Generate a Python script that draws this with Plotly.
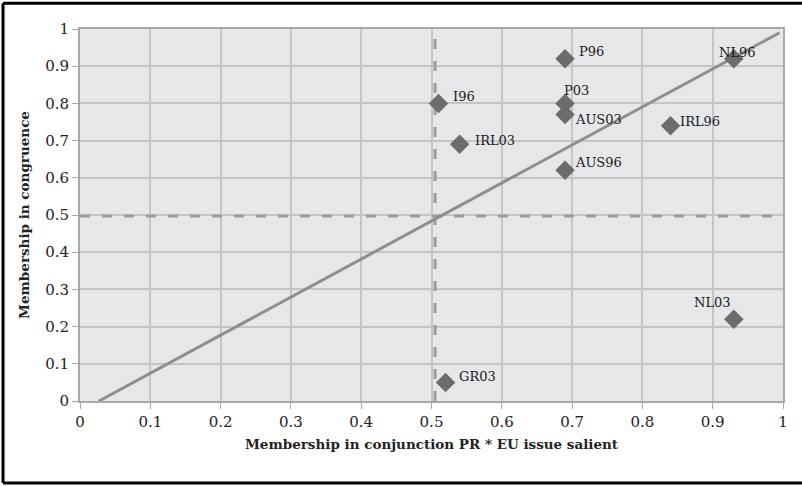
import plotly.graph_objects as go

# ---- data ----
cases = ["P96", "NL96", "I96", "P03", "AUS03", "IRL96", "IRL03", "AUS96", "NL03", "GR03"]
conjunction = [0.69, 0.93, 0.51, 0.69, 0.69, 0.84, 0.54, 0.69, 0.93, 0.52]
congruence = [0.92, 0.92, 0.80, 0.80, 0.77, 0.74, 0.69, 0.62, 0.22, 0.05]

diag_x = [0.027, 0.995]
diag_y = [0.0, 0.99]
threshold_x = 0.505
threshold_y = 0.497

tick_vals = [0, 0.1, 0.2, 0.3, 0.4, 0.5, 0.6, 0.7, 0.8, 0.9, 1]
tick_text = ["0", "0.1", "0.2", "0.3", "0.4", "0.5", "0.6", "0.7", "0.8", "0.9", "1"]

# label placement (pixel offsets, anchor)
label_style = {
    "P96": (12, 7, "left"),
    "NL96": (-17, 6, "left"),
    "I96": (12, 7, "left"),
    "P03": (-3, 13, "left"),
    "AUS03": (8, -5, "left"),
    "IRL96": (7, 4, "left"),
    "IRL03": (13, 4, "left"),
    "AUS96": (8, 8, "left"),
    "NL03": (-1, 17, "right"),
    "GR03": (11, 6, "left"),
}

SERIF = "DejaVu Serif"
fig = go.Figure()

# dashed thresholds
fig.add_trace(go.Scatter(x=[0, 1], y=[threshold_y, threshold_y], mode="lines",
                         line=dict(color="#9c9c9c", width=3, dash="10px,12px"),
                         hoverinfo="skip", showlegend=False))
fig.add_trace(go.Scatter(x=[threshold_x, threshold_x], y=[0, 1], mode="lines",
                         line=dict(color="#9c9c9c", width=3, dash="10px,12px"),
                         hoverinfo="skip", showlegend=False))
# diagonal
fig.add_trace(go.Scatter(x=diag_x, y=diag_y, mode="lines",
                         line=dict(color="#8e8e8e", width=3),
                         hoverinfo="skip", showlegend=False))
# points
fig.add_trace(go.Scatter(x=conjunction, y=congruence, mode="markers",
                         marker=dict(symbol="diamond", size=15, color="#6c6c6c",
                                     line=dict(width=0)),
                         text=cases, showlegend=False))

for c, xv, yv in zip(cases, conjunction, congruence):
    dx, dy, anchor = label_style[c]
    fig.add_annotation(x=xv, y=yv, text=c, showarrow=False, xanchor=anchor,
                       yanchor="middle", xshift=dx, yshift=dy,
                       font=dict(family=SERIF, size=13, color="#1a1a1a"))

# outer frame (top, left, bottom; right edge is outside the picture)
frame_l, frame_r, frame_b, frame_t = -0.1095, 1.027, -0.2205, 1.0695
for x0, y0, x1, y1 in [(frame_l, frame_t, frame_r, frame_t),
                       (frame_l, frame_b, frame_l, frame_t),
                       (frame_l, frame_b, frame_r, frame_b)]:
    fig.add_shape(type="line", xref="paper", yref="paper",
                  x0=x0, y0=y0, x1=x1, y1=y1,
                  line=dict(color="black", width=3), layer="below")

axis_common = dict(range=[0, 1], tickvals=tick_vals, ticktext=tick_text,
                   showgrid=True, gridcolor="#c4c4c4", gridwidth=1.5,
                   showline=True, linecolor="#a8a8a8", linewidth=2, mirror=True,
                   ticks="outside", ticklen=6, tickcolor="#a8a8a8", tickwidth=1,
                   zeroline=False,
                   tickfont=dict(family=SERIF, size=15, color="#222222"))

fig.update_layout(
    width=802, height=486,
    margin=dict(l=80, r=19, t=29, b=85),
    paper_bgcolor="white", plot_bgcolor="#e6e7e8",
    xaxis=dict(**axis_common,
               title=dict(text="<b>Membership in conjunction PR * EU issue salient</b>",
                          font=dict(family=SERIF, size=13.5, color="#222222"),
                          standoff=10)),
    yaxis=dict(**axis_common,
               title=dict(text="<b>Membership in congruence</b>",
                          font=dict(family=SERIF, size=13.5, color="#222222"),
                          standoff=12)),
)

fig.write_html("out.html", config={"displayModeBar": False},
               post_script="document.body.style.margin='0';document.body.style.overflow='hidden';")
